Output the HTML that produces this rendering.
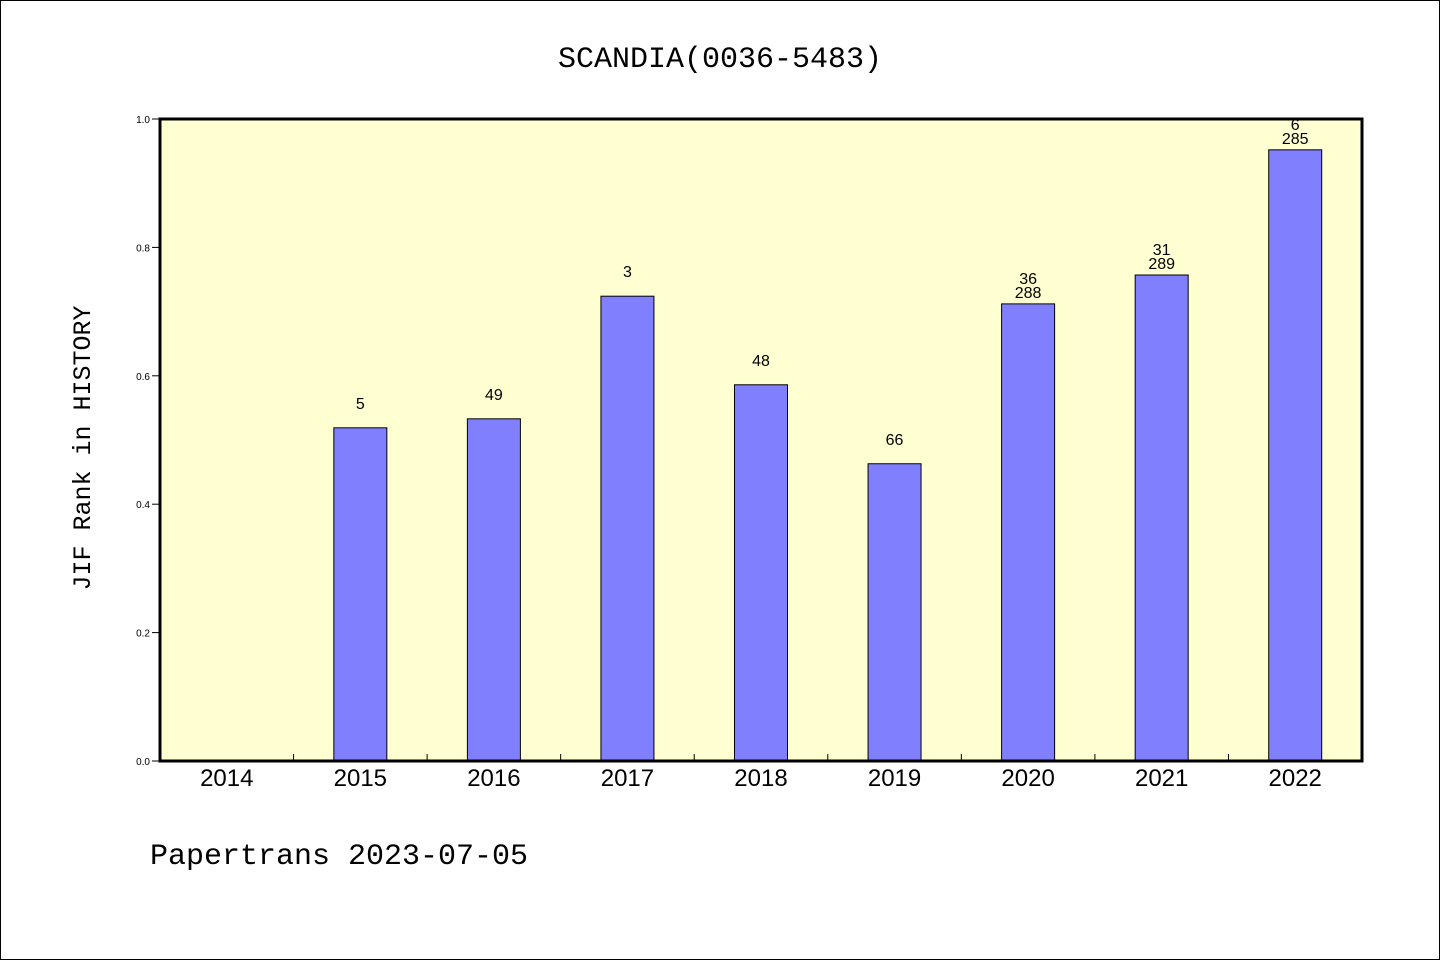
<!DOCTYPE html>
<html><head><meta charset="utf-8"><style>
body{margin:0;background:#fff}
svg{display:block;font-family:"Liberation Sans","DejaVu Sans",sans-serif}
</style></head><body>
<svg id="c" width="1440" height="960">
<rect x="0.5" y="0.5" width="1439" height="959" fill="#fff" stroke="#000"/>
<text x="720" y="67" text-anchor="middle" font-size="30" font-family="Liberation Mono, DejaVu Sans Mono, monospace">SCANDIA(0036-5483)</text>
<rect x="160" y="119" width="1202" height="642" fill="#ffffd2"/>
<g id="bars"></g>
<rect x="160" y="119" width="1202" height="642" fill="none" stroke="#000" stroke-width="3"/>
<text transform="translate(90,448) rotate(-90)" text-anchor="middle" font-size="25" font-family="Liberation Mono, DejaVu Sans Mono, monospace">JIF Rank in HISTORY</text>
<text x="150" y="864" font-size="30" font-family="Liberation Mono, DejaVu Sans Mono, monospace">Papertrans 2023-07-05</text>
</svg>
<script>
const categories=["2014","2015","2016","2017","2018","2019","2020","2021","2022"];
const values=[null,0.519,0.533,0.724,0.586,0.463,0.712,0.757,0.952];
const rankLabels=["","5","49","3","48","66","36","31","6"];
const totalLabels=["","","","","","","288","289","285"];
const yTicks=[0,0.2,0.4,0.6,0.8,1.0];
const L=160,R=1362,T=119,B=761,N=categories.length,slot=(R-L)/N,bw=53;
const y=v=>B-v*(B-T), xc=i=>L+slot*(i+0.5);
const g=document.getElementById('bars'),ns="http://www.w3.org/2000/svg";
function mk(t,a,txt){const e=document.createElementNS(ns,t);for(const k in a)e.setAttribute(k,a[k]);if(txt!=null)e.textContent=txt;g.appendChild(e);return e;}
yTicks.forEach(v=>{
 const l=mk('line',{x1:L-8,x2:L,y1:y(v),y2:y(v),stroke:'#000'});
 
 
 const t=mk('text',{x:L-10,y:y(v)+4,'text-anchor':'end','font-size':10},v.toFixed(1));
 
 
});
for(let i=1;i<N;i++){
 const l=mk('line',{x1:L+slot*i,x2:L+slot*i,y1:B,y2:B-7,stroke:'#000'});
 
 
}
categories.forEach((c,i)=>{
 const t=mk('text',{x:xc(i),y:B+25,'text-anchor':'middle','font-size':24},c);
 
 
 const v=values[i];if(v==null)return;
 const r=mk('rect',{x:xc(i)-bw/2,y:y(v),width:bw,height:B-y(v),fill:'#8080ff',stroke:'#000'});
 
 
 if(totalLabels[i]){
  const a=mk('text',{x:xc(i),y:y(v)-6,'text-anchor':'middle','font-size':16},totalLabels[i]);
  
  
  const b=mk('text',{x:xc(i),y:y(v)-20,'text-anchor':'middle','font-size':16},rankLabels[i]);
  
  
 }else{
  const b=mk('text',{x:xc(i),y:y(v)-19,'text-anchor':'middle','font-size':16},rankLabels[i]);
  
  
 }
});
</script>
</body></html>
